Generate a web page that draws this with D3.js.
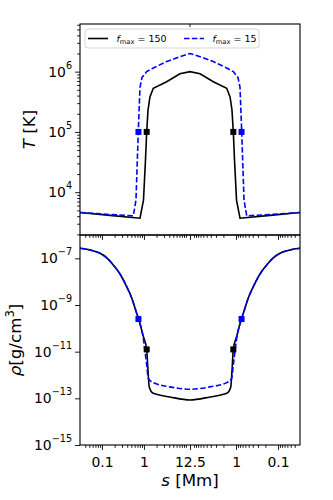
<!DOCTYPE html>
<html lang="en">
<head>
    <meta charset="UTF-8">
    <title>T and rho along the loop</title>
    <script src="https://d3js.org/d3.v7.min.js"></script>
    <style>
        body { margin: 0; background: #fff; font-family: "DejaVu Sans", sans-serif; }
        text { font-family: "DejaVu Sans", sans-serif; fill: #000; }
    </style>
</head>
<body>
    <div id="chart"></div>

    <script>
        // distance from the nearest footpoint [Mm]; the loop is symmetric so the right half mirrors the left
        const sT150 = [0.03, 0.155, 0.805, 0.975, 1.088, 1.162, 1.25, 1.39, 1.67, 3.48, 7.2, 12.5];
        const T150  = [4600, 4120, 3700, 7400, 34000, 1.0e5, 2.3e5, 3.8e5, 5.3e5, 6.8e5, 9.2e5, 1.0e6];

        const sT15 = [0.03, 0.155, 0.557, 0.646, 0.733, 0.805, 0.9, 1.162, 1.67, 3.48, 7.2, 12.5];
        const T15  = [4600, 4270, 4050, 7400, 1.0e5, 5.5e5, 8.0e5, 1.0e6, 1.15e6, 1.47e6, 1.77e6, 2.0e6];

        const sR150 = [0.03, 0.052, 0.09, 0.132, 0.186, 0.269, 0.388, 0.511, 0.671, 0.762, 0.95, 1.162, 1.25, 1.34, 1.67, 4.17, 12.5];
        const R150  = [2.7e-7, 2.28e-7, 1.64e-7, 1.03e-7, 5.2e-8, 2.13e-8, 6.1e-9, 2.0e-9, 4.4e-10, 2.2e-10, 5e-11, 1.25e-11, 1.5e-12, 3.0e-13, 1.64e-13, 1.15e-13, 8.5e-14];

        const sR15 = [0.03, 0.052, 0.09, 0.132, 0.186, 0.269, 0.388, 0.511, 0.671, 0.745, 0.95, 1.162, 1.27, 1.67, 4.17, 12.5];
        const R15  = [2.7e-7, 2.28e-7, 1.64e-7, 1.03e-7, 5.2e-8, 2.13e-8, 6.1e-9, 2.0e-9, 4.4e-10, 2.5e-10, 4.5e-11, 2.7e-12, 7.2e-13, 4.7e-13, 3.1e-13, 2.45e-13];

        // square markers where T = 1e5 K
        const mark150 = {s: 1.162, T: 1e5, rho: 1.25e-11};
        const mark15  = {s: 0.74, T: 1e5, rho: 2.5e-10};

        const xMajorL = [0.1, 1, 12.5];
        const xMajorR = [1, 0.1];
        const xMinor = [0.04, 0.05, 0.06, 0.07, 0.08, 0.09, 0.2, 0.3, 0.4, 0.5, 0.6, 0.7, 0.8, 0.9,
                        2, 3, 4, 5, 6, 7, 8, 9, 10];
        const tMajor = [1e4, 1e5, 1e6];
        const rMajor = [1e-15, 1e-13, 1e-11, 1e-9, 1e-7];

        const W = 333, H = 500;
        const left = 80, right = 300, mid = 190;
        const topT = 24, split = 235, bottom = 445;

        const svg = d3.select("#chart").append("svg")
            .attr("width", W).attr("height", H);

        const xL = d3.scaleLog().domain([0.03, 12.5]).range([left, mid]);
        const xR = d3.scaleLog().domain([12.5, 0.03]).range([mid, right]);
        const yT = d3.scaleLog().domain([Math.pow(10, 3.29), Math.pow(10, 6.79)]).range([split, topT]);
        const yR = d3.scaleLog().domain([1e-15, 1e-6]).range([bottom, split]);

        const px = p => p.side === "L" ? xL(p.s) : xR(p.s);

        function bothSides(s, v) {
            const l = s.map((d, i) => ({side: "L", s: d, v: v[i]}));
            const r = s.slice(0, -1).map((d, i) => ({side: "R", s: d, v: v[i]})).reverse();
            return l.concat(r);
        }

        // clip paths for the two panels
        const defs = svg.append("defs");
        defs.append("clipPath").attr("id", "clipT").append("rect")
            .attr("x", left).attr("y", topT).attr("width", right - left).attr("height", split - topT);
        defs.append("clipPath").attr("id", "clipR").append("rect")
            .attr("x", left).attr("y", split).attr("width", right - left).attr("height", bottom - split);

        function drawSeries(clip, y, s, v, color, dash, curve) {
            svg.append("path")
                .datum(bothSides(s, v))
                .attr("clip-path", `url(#${clip})`)
                .attr("fill", "none")
                .attr("stroke", color)
                .attr("stroke-width", 1.6)
                .attr("stroke-dasharray", dash)
                .attr("d", d3.line().curve(curve).x(px).y(d => y(d.v)));
        }

        function drawMarks(y, m, key, color) {
            const pts = [{side: "L", s: m.s, v: m[key]}, {side: "R", s: m.s, v: m[key]}];
            svg.append("g").selectAll("rect").data(pts).join("rect")
                .attr("x", d => px(d) - 3).attr("y", d => y(d.v) - 3)
                .attr("width", 6).attr("height", 6)
                .attr("fill", color);
        }

        drawSeries("clipT", yT, sT150, T150, "#000", null, d3.curveLinear);
        drawSeries("clipT", yT, sT15, T15, "#0000ff", "5.5,2.4", d3.curveLinear);
        drawMarks(yT, mark15, "T", "#0000ff");
        drawMarks(yT, mark150, "T", "#000");

        drawSeries("clipR", yR, sR150, R150, "#000", null, d3.curveMonotoneX);
        drawSeries("clipR", yR, sR15, R15, "#0000ff", "5.5,2.4", d3.curveMonotoneX);
        drawMarks(yR, mark15, "rho", "#0000ff");
        drawMarks(yR, mark150, "rho", "#000");

        // axes
        function styleAxis(g) {
            g.select(".domain").remove();
            g.selectAll(".tick line").attr("stroke", "#000").attr("stroke-width", 0.9);
            g.selectAll("text").attr("font-size", 13.9).attr("font-family", "DejaVu Sans");
        }

        function xAxes(yPos, labels) {
            const fmt = d => d === 12.5 ? "12.5" : d3.format("~g")(d);
            [[xL, xMajorL], [xR, xMajorR]].forEach(([sc, majors]) => {
                svg.append("g").attr("transform", `translate(0,${yPos})`)
                    .call(d3.axisBottom(sc).tickValues(xMinor).tickSize(2.8).tickFormat(""))
                    .call(styleAxis);
                svg.append("g").attr("transform", `translate(0,${yPos})`)
                    .call(d3.axisBottom(sc).tickValues(majors).tickSize(4.9).tickPadding(7)
                        .tickFormat(labels ? fmt : ""))
                    .call(styleAxis);
            });
        }
        xAxes(split, false);
        xAxes(bottom, true);

        function supLabels(g) {
            g.selectAll(".tick text").each(function(d) {
                const e = Math.round(Math.log10(d));
                const t = d3.select(this).text("10");
                t.append("tspan").attr("dy", -8).attr("font-size", 9.7)
                    .text(String(e).replace("-", "\u2212"));
            });
        }

        const tMinor = [];
        for (let e = 3; e <= 6; e++) {
            for (let k = 2; k <= 9; k++) {
                const v = k * Math.pow(10, e);
                if (v > yT.domain()[0] && v < yT.domain()[1]) tMinor.push(v);
            }
        }
        svg.append("g").attr("transform", `translate(${left},0)`)
            .call(d3.axisLeft(yT).tickValues(tMinor).tickSize(2.8).tickFormat(""))
            .call(styleAxis);
        svg.append("g").attr("transform", `translate(${left},0)`)
            .call(d3.axisLeft(yT).tickValues(tMajor).tickSize(4.9).tickPadding(3))
            .call(styleAxis).call(supLabels);

        svg.append("g").attr("transform", `translate(${left},0)`)
            .call(d3.axisLeft(yR).tickValues(rMajor).tickSize(4.9).tickPadding(3))
            .call(styleAxis).call(supLabels);

        // small tick at the loop top on the upper spine
        svg.append("line")
            .attr("x1", mid).attr("x2", mid).attr("y1", topT).attr("y2", topT + 3)
            .attr("stroke", "#000").attr("stroke-width", 0.9);

        // panel frames
        [[topT, split], [split, bottom]].forEach(([a, b]) => {
            svg.append("rect")
                .attr("x", left).attr("y", a).attr("width", right - left).attr("height", b - a)
                .attr("fill", "none").attr("stroke", "#000").attr("stroke-width", 1.1);
        });

        // axis labels
        const tl = svg.append("text")
            .attr("transform", `translate(35,${(topT + split) / 2}) rotate(-90)`)
            .attr("text-anchor", "middle").attr("font-size", 16.7);
        tl.append("tspan").attr("font-style", "italic").text("T");
        tl.append("tspan").text(" [K]");

        const rl = svg.append("text")
            .attr("transform", `translate(21,${(split + bottom) / 2}) rotate(-90)`)
            .attr("text-anchor", "middle").attr("font-size", 16.7);
        rl.append("tspan").attr("font-style", "italic").text("\u03c1");
        rl.append("tspan").text("[g/cm");
        rl.append("tspan").attr("dy", -7).attr("font-size", 11.7).text("3");
        rl.append("tspan").attr("dy", 7).text("]");

        const xl = svg.append("text")
            .attr("x", mid).attr("y", 486)
            .attr("text-anchor", "middle").attr("font-size", 16.7);
        xl.append("tspan").attr("font-style", "italic").text("s");
        xl.append("tspan").text(" [Mm]");

        // legend
        const lg = svg.append("g");
        lg.append("rect")
            .attr("x", 85).attr("y", 29).attr("width", 174).attr("height", 19).attr("rx", 3)
            .attr("fill", "#fff").attr("fill-opacity", 0.8)
            .attr("stroke", "#d0d0d0").attr("stroke-width", 0.9);
        const items = [
            {x: 88, color: "#000", dash: null, f: "150"},
            {x: 184, color: "#0000ff", dash: "5.5,2.4", f: "15"}
        ];
        items.forEach(it => {
            lg.append("line")
                .attr("x1", it.x).attr("x2", it.x + 20).attr("y1", 38.5).attr("y2", 38.5)
                .attr("stroke", it.color).attr("stroke-width", 1.6)
                .attr("stroke-dasharray", it.dash);
            const t = lg.append("text").attr("x", it.x + 28.5).attr("y", 42).attr("font-size", 9.5);
            t.append("tspan").attr("font-style", "italic").text("f");
            t.append("tspan").attr("dy", 2).attr("font-size", 6.7).text("max");
            t.append("tspan").attr("dy", -2).text(" = " + it.f);
        });
    </script>
</body>
</html>
